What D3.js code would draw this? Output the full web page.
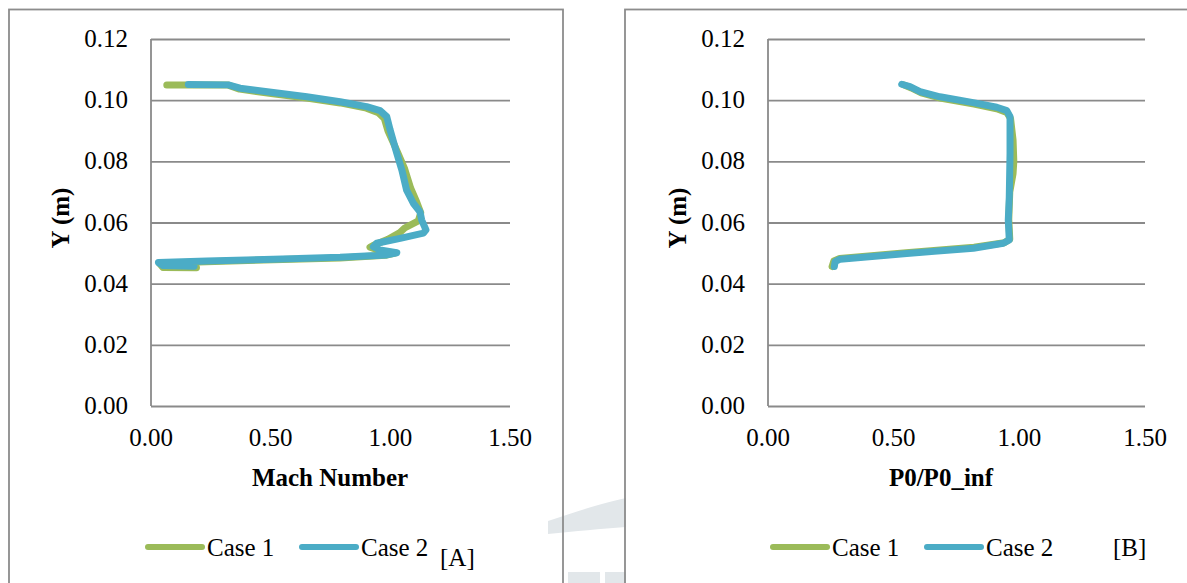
<!DOCTYPE html>
<html>
<head>
<meta charset="utf-8">
<script src="https://cdn.jsdelivr.net/npm/d3@7"></script>
<style>
  body { margin: 0; background: #fff; }
  .grid line { stroke: #8a8a8a; stroke-width: 1.8; }
</style>
</head>
<body>
<div id="d3-container"></div>
<script>
/* DATA */
const yTicks = [0, 0.02, 0.04, 0.06, 0.08, 0.10, 0.12];
const xTicks = [0, 0.5, 1.0, 1.5];
const seriesNames = ["Case 1", "Case 2"];

// Mach number vs Y
const machCase1 = [[0.066,0.1050],[0.32,0.1050],[0.37,0.1036],[0.51,0.1021],[0.65,0.1007],[0.79,0.0991],[0.90,0.0974],[0.95,0.0959],[0.975,0.0940],[0.99,0.0900],[1.03,0.0830],[1.06,0.0775],[1.085,0.0712],[1.11,0.0667],[1.127,0.0632],[1.117,0.0605],[1.06,0.0582],[1.04,0.0567],[0.99,0.0545],[0.93,0.0526],[0.915,0.0519],[0.96,0.0507],[1.02,0.0500],[0.98,0.0493],[0.79,0.0484],[0.51,0.0478],[0.23,0.0472],[0.035,0.0467],[0.05,0.0453],[0.19,0.0452]];
const machCase2 = [[0.156,0.1051],[0.323,0.1050],[0.372,0.1039],[0.511,0.1025],[0.651,0.1011],[0.79,0.0995],[0.901,0.0979],[0.957,0.0966],[0.985,0.0946],[0.999,0.0903],[1.027,0.0826],[1.048,0.0772],[1.068,0.0706],[1.096,0.0663],[1.124,0.0635],[1.131,0.0608],[1.149,0.0576],[1.138,0.0565],[1.041,0.0548],[0.943,0.0532],[0.929,0.0521],[0.957,0.0510],[1.027,0.0501],[0.985,0.0494],[0.79,0.0486],[0.511,0.0480],[0.233,0.0474],[0.031,0.0469],[0.05,0.0459],[0.18,0.0457]];

// P0/P0_inf vs Y
const p0Case1 = [[0.54,0.1050],[0.57,0.1040],[0.61,0.1024],[0.69,0.1006],[0.82,0.0987],[0.91,0.0972],[0.95,0.0960],[0.965,0.0940],[0.975,0.0870],[0.978,0.0800],[0.975,0.0760],[0.962,0.0700],[0.958,0.0610],[0.962,0.0545],[0.94,0.0534],[0.82,0.0519],[0.55,0.0501],[0.285,0.0482],[0.262,0.0474],[0.255,0.0456]];
const p0Case2 = [[0.532,0.1052],[0.565,0.1044],[0.605,0.1028],[0.684,0.1011],[0.817,0.0992],[0.91,0.0977],[0.95,0.0966],[0.963,0.0946],[0.963,0.0826],[0.96,0.0684],[0.956,0.0608],[0.96,0.0543],[0.936,0.0532],[0.817,0.0516],[0.552,0.0499],[0.287,0.0480],[0.267,0.0472],[0.264,0.0456]];

/* CONSTANTS */
const width = 1187, height = 583;
const colors = ["#9bbb59", "#4bacc6"];
const fontSize = 25;
const serif = "'Liberation Serif', 'Times New Roman', Times, 'DejaVu Serif', serif";

const panels = [
  { box: 9, plot: [151, 510], xTitle: "Mach Number", titleX: 330, yTitleX: 61,
    series: [machCase1, machCase2], tag: "[A]", tagPos: [440, 566],
    legendX: [148, 302] },
  { box: 625, plot: [768, 1145], xTitle: "P0/P0_inf", titleX: 941, yTitleX: 678,
    series: [p0Case1, p0Case2], tag: "[B]", tagPos: [1113, 556],
    legendX: [773, 927] }
];

let svg;

function init() {
  svg = d3.select("#d3-container")
    .append("svg")
    .attr("width", width)
    .attr("height", height)
    .attr("font-family", serif);

  // faint watermark between the panels
  svg.append("path")
    .attr("d", "M548,521 C572,513 592,506 626,498 L626,527 C600,529 576,531 548,534 Z")
    .attr("fill", "#e2e7ea");
  svg.append("path")
    .attr("d", "M568,572 L600,572 L600,583 L568,583 Z M605,572 L626,572 L626,583 L605,583 Z")
    .attr("fill", "#e2e7ea");

  panels.forEach(drawPanel);
}

function drawPanel(p) {
  // chart area border
  svg.append("rect")
    .attr("x", p.box)
    .attr("y", 9.5)
    .attr("width", p.box === 9 ? 554 : width - p.box + 5)
    .attr("height", height)
    .attr("fill", "none")
    .attr("stroke", "#8c8c8c")
    .attr("stroke-width", 1.8);

  const xScale = d3.scaleLinear().domain([0, 1.5]).range(p.plot);
  const yScale = d3.scaleLinear().domain([0, 0.12]).range([406, 39]);

  // horizontal gridlines
  svg.append("g")
    .attr("class", "grid")
    .attr("transform", `translate(${p.plot[0]},0)`)
    .call(d3.axisLeft(yScale).tickValues(yTicks).tickSize(-(p.plot[1] - p.plot[0])).tickFormat(""))
    .call(g => g.select(".domain").remove());

  // left axis line
  svg.append("line")
    .attr("x1", p.plot[0]).attr("x2", p.plot[0])
    .attr("y1", yScale(0.12)).attr("y2", yScale(0))
    .attr("stroke", "#8a8a8a")
    .attr("stroke-width", 1.8);

  // y tick labels
  svg.append("g")
    .selectAll("text")
    .data(yTicks)
    .join("text")
    .attr("x", p.plot[0] - 23)
    .attr("y", d => yScale(d) + 8)
    .attr("text-anchor", "end")
    .attr("font-size", fontSize)
    .text(d => d3.format(".2f")(d));

  // x tick labels
  svg.append("g")
    .selectAll("text")
    .data(xTicks)
    .join("text")
    .attr("x", d => xScale(d))
    .attr("y", 446)
    .attr("text-anchor", "middle")
    .attr("font-size", fontSize)
    .text(d => d3.format(".2f")(d));

  // axis titles
  svg.append("text")
    .attr("x", p.titleX)
    .attr("y", 486)
    .attr("text-anchor", "middle")
    .attr("font-size", fontSize)
    .attr("font-weight", "bold")
    .text(p.xTitle);

  svg.append("text")
    .attr("transform", `translate(${p.yTitleX + 8},218) rotate(-90)`)
    .attr("text-anchor", "middle")
    .attr("font-size", fontSize)
    .attr("font-weight", "bold")
    .text("Y (m)");

  // lines
  const line = d3.line()
    .x(d => xScale(d[0]))
    .y(d => yScale(d[1]));

  svg.append("g")
    .selectAll("path")
    .data(p.series)
    .join("path")
    .attr("d", line)
    .attr("fill", "none")
    .attr("stroke", (d, i) => colors[i])
    .attr("stroke-width", 7)
    .attr("stroke-linecap", "round")
    .attr("stroke-linejoin", "round");

  // legend
  const legend = svg.append("g")
    .selectAll("g")
    .data(seriesNames)
    .join("g")
    .attr("transform", (d, i) => `translate(${p.legendX[i]},547)`);

  legend.append("line")
    .attr("x1", 0).attr("x2", 54)
    .attr("stroke", (d, i) => colors[i])
    .attr("stroke-width", 6)
    .attr("stroke-linecap", "round");

  legend.append("text")
    .attr("x", 59)
    .attr("y", 8.5)
    .attr("font-size", fontSize)
    .text(d => d);

  svg.append("text")
    .attr("x", p.tagPos[0])
    .attr("y", p.tagPos[1])
    .attr("font-size", fontSize)
    .text(p.tag);
}

init();
</script>
</body>
</html>
